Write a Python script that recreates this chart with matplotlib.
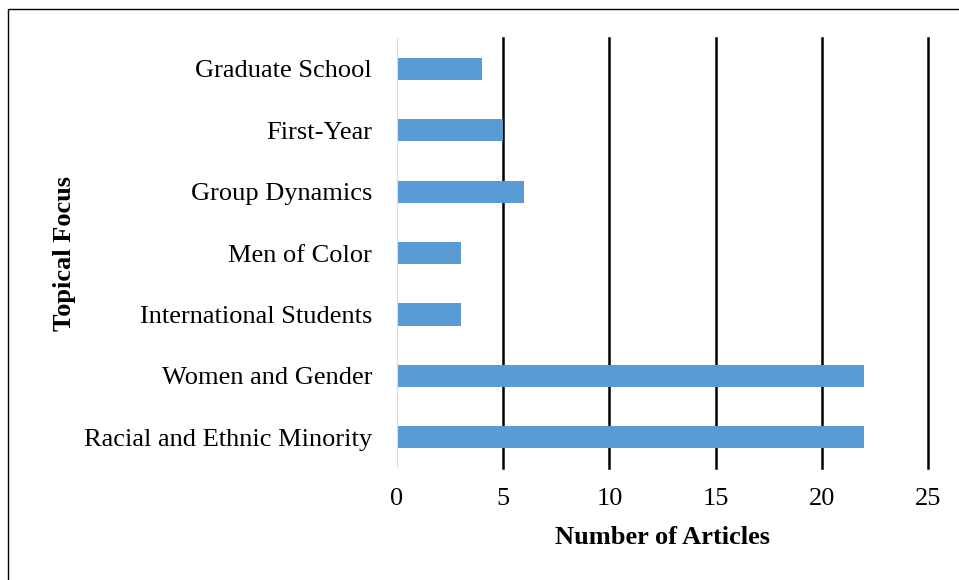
import matplotlib.pyplot as plt
from matplotlib.patches import Rectangle

categories = ["Racial and Ethnic Minority", "Women and Gender", "International Students",
              "Men of Color", "Group Dynamics", "First-Year", "Graduate School"]
counts = [22, 22, 3, 3, 6, 5, 4]

plt.rcParams['font.family'] = ['Liberation Serif', 'DejaVu Serif']

fig = plt.figure(figsize=(9.59, 5.80), dpi=100)
ax = fig.add_axes([0.414, 0.193, 0.5537, 0.7415])

ax.barh(range(len(categories)), counts, height=0.36, color="#5B9BD5", zorder=3)
ax.set_xlim(0, 25)
ax.set_ylim(-0.5, len(categories) - 0.5)
ax.set_xticks([0, 5, 10, 15, 20, 25])
ax.set_yticks(range(len(categories)))
ax.set_yticklabels(categories)
ax.tick_params(length=0, labelsize=19)
ax.tick_params(axis='x', pad=14)
ax.tick_params(axis='y', pad=18)

for x in [5, 10, 15, 20, 25]:
    ax.axvline(x, color="black", lw=1.8, zorder=1, clip_on=False)
ax.axvline(0, color="#d9d9d9", lw=1.5, zorder=4)

for s in ax.spines.values():
    s.set_visible(False)

ax.set_xlabel("Number of Articles", fontsize=19, fontweight="bold", labelpad=12)
ax.set_ylabel("Topical Focus", fontsize=19, fontweight="bold", labelpad=6)

fig.patches.append(Rectangle((8 / 959, -0.1), 1.2, 1 - 9 / 580 + 0.1,
                             transform=fig.transFigure, fill=False,
                             edgecolor="black", lw=1.0))

fig.savefig("out.png", dpi=100)
